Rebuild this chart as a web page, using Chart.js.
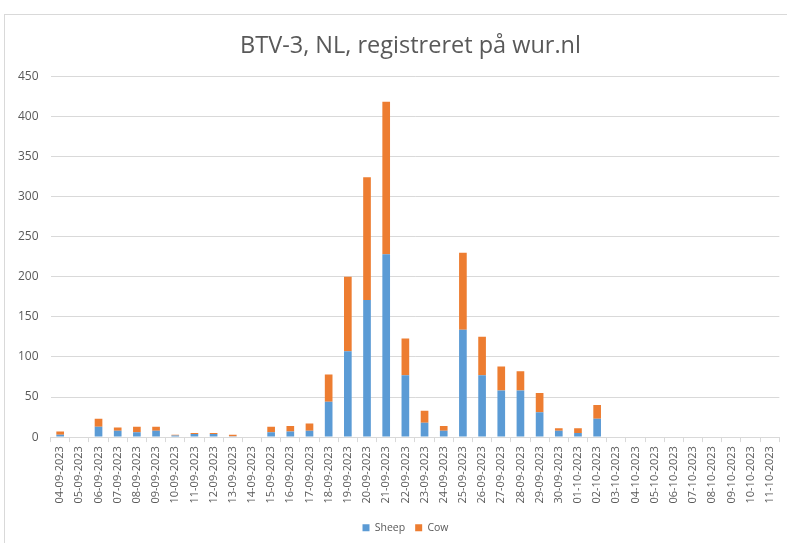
<!DOCTYPE html>
<html>
<head>
<meta charset="utf-8">
<script src="https://cdn.jsdelivr.net/npm/chart.js@4"></script>
<style>
html,body{margin:0;padding:0;background:#fff;}
#wrap{position:absolute;left:0;top:0;width:787px;height:543px;}
#frame{position:absolute;left:4px;top:14px;width:800px;height:600px;border:1px solid #d9d9d9;box-sizing:border-box;}
canvas{position:absolute;left:0;top:0;}
</style>
</head>
<body>
<div id="wrap">
<div id="frame"></div>
<canvas id="c" width="787" height="543"></canvas>
</div>
<script>
const categories = ["04-09-2023","05-09-2023","06-09-2023","07-09-2023","08-09-2023","09-09-2023","10-09-2023","11-09-2023","12-09-2023","13-09-2023","14-09-2023","15-09-2023","16-09-2023","17-09-2023","18-09-2023","19-09-2023","20-09-2023","21-09-2023","22-09-2023","23-09-2023","24-09-2023","25-09-2023","26-09-2023","27-09-2023","28-09-2023","29-09-2023","30-09-2023","01-10-2023","02-10-2023","03-10-2023","04-10-2023","05-10-2023","06-10-2023","07-10-2023","08-10-2023","09-10-2023","10-10-2023","11-10-2023"];
const sheep = [3,0,13,8,6,8,2,4,4,1,0,6,7,8,44,107,171,228,77,18,8,134,77,58,58,31,8,5,23,0,0,0,0,0,0,0,0,0];
const cow   = [4,0,10,4,7,5,1,1,1,2,0,7,7,9,34,93,153,190,46,15,6,96,48,30,24,24,3,6,17,0,0,0,0,0,0,0,0,0];
const yTicks = [0,50,100,150,200,250,300,350,400,450];
const title = "BTV-3, NL, registreret på wur.nl";

const FONT = "'Open Sans', 'Liberation Sans', sans-serif";
const TXT = "#595959";

const shiftBoxes = {
  id: 'shiftBoxes',
  afterLayout(chart) {
    if (chart.legend) { chart.legend.left += 11; chart.legend.right += 11; }
    if (chart.titleBlock) { chart.titleBlock.left += 16; chart.titleBlock.right += 16; }
  }
};

new Chart(document.getElementById('c'), {
  type: 'bar',
  data: {
    labels: categories,
    datasets: [
      {label: 'Sheep', data: sheep, backgroundColor: '#5B9BD5', barPercentage: 0.4, categoryPercentage: 1},
      {label: 'Cow', data: cow, backgroundColor: '#ED7D31', barPercentage: 0.4, categoryPercentage: 1}
    ]
  },
  plugins: [shiftBoxes],
  options: {
    responsive: false,
    animation: false,
    layout: {padding: {left: 6, right: 4, top: 27, bottom: 0}},
    plugins: {
      title: {display: true, text: title, color: TXT, font: {family: FONT, size: 23.5, weight: 'normal'}, padding: {top: 5, bottom: 16}},
      legend: {position: 'bottom', labels: {color: TXT, font: {family: FONT, size: 10.5}, boxWidth: 7, boxHeight: 7, padding: 10}},
      tooltip: {enabled: false}
    },
    scales: {
      x: {
        stacked: true,
        offset: true,
        grid: {display: true, drawOnChartArea: false, drawTicks: true, tickLength: 5, color: '#d9d9d9', offset: true},
        border: {display: true, color: '#d9d9d9'},
        ticks: {color: TXT, font: {family: FONT, size: 11}, maxRotation: 90, minRotation: 90, autoSkip: false, padding: 4},
        afterFit: (scale) => { scale.height += 5; }
      },
      y: {
        stacked: true,
        min: 0, max: 450,
        afterBuildTicks: (axis) => { axis.ticks = yTicks.map(v => ({value: v})); },
        grid: {color: '#d9d9d9', drawTicks: false},
        border: {display: false},
        ticks: {color: TXT, font: {family: FONT, size: 12}, padding: 12}
      }
    }
  }
});
</script>
</body>
</html>
